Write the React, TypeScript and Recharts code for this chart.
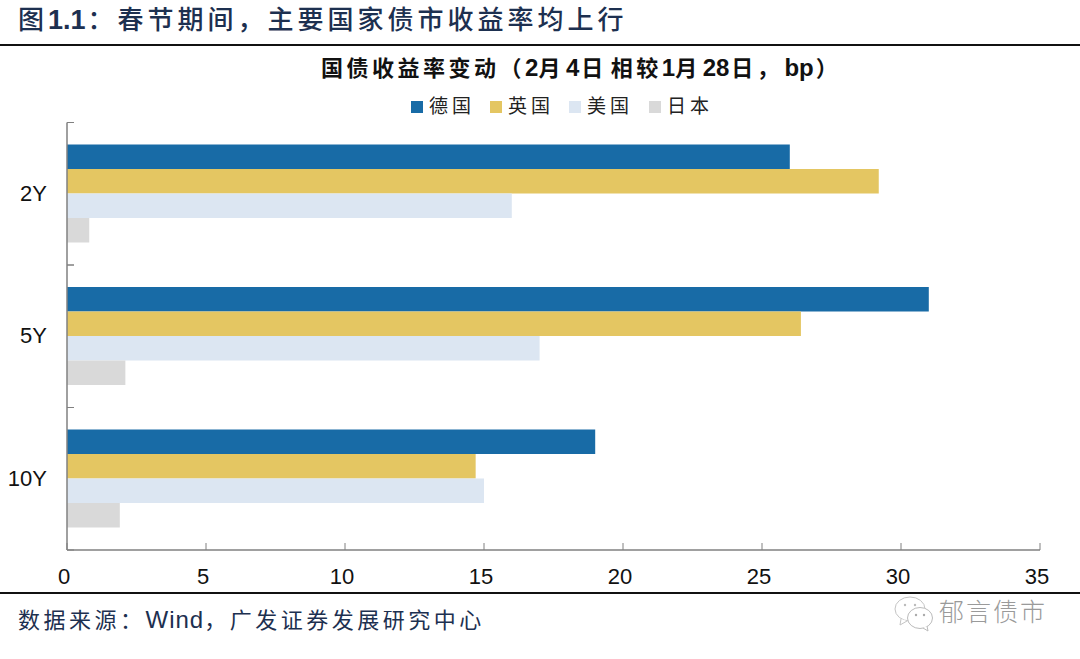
import React from "react";
import { BarChart, Bar, XAxis, YAxis, Legend } from "recharts";

const categories = ["2Y", "5Y", "10Y"];
const germany = [26, 31, 19];
const uk = [29.2, 26.4, 14.7];
const us = [16, 17, 15];
const japan = [0.8, 2.1, 1.9];
const xTicks = [0, 5, 10, 15, 20, 25, 30, 35];
const seriesNames = ["德国", "英国", "美国", "日本"];
const seriesColors = ["#186BA6", "#E4C662", "#DCE6F2", "#D9D9D9"];

const rows = categories.map((c, i) => ({
  cat: c,
  德国: germany[i],
  英国: uk[i],
  美国: us[i],
  日本: japan[i],
}));

const W = 1080;
const H = 659;
const PLOT = { left: 67, right: 1040, top: 122.5, bottom: 550 };
const BAND = (PLOT.bottom - PLOT.top) / categories.length;
const LEGEND_H = 24;
const AXIS = "#808080";
const LATIN_CJK = '"Liberation Sans", "Noto Sans CJK SC", sans-serif';
const NAVY = "#1D3050";

const XTick = (p: any) => (
  <g>
    <line x1={p.x} x2={p.x} y1={PLOT.bottom} y2={PLOT.bottom - 7} stroke={AXIS} strokeWidth={1} />
    <text x={p.x - 3} y={584} textAnchor="middle" fontSize={22} fill="#111" fontFamily={LATIN_CJK}>
      {p.payload.value}
    </text>
  </g>
);

const YTick = (p: any) => (
  <g>
    <line x1={PLOT.left} x2={PLOT.left + 7} y1={p.y - BAND / 2} y2={p.y - BAND / 2} stroke={AXIS} strokeWidth={1} />
    <line x1={PLOT.left} x2={PLOT.left + 7} y1={p.y + BAND / 2} y2={p.y + BAND / 2} stroke={AXIS} strokeWidth={1} />
    <text x={47} y={p.y + 7} textAnchor="end" fontSize={22} fill="#111" fontFamily={LATIN_CJK}>
      {p.payload.value}
    </text>
  </g>
);

const legendLefts = [411, 490, 569, 649];

const LegendContent = () => (
  <div style={{ position: "relative", width: W, height: LEGEND_H }}>
    {seriesNames.map((n, i) => (
      <React.Fragment key={n}>
        <div
          style={{
            position: "absolute",
            left: legendLefts[i],
            top: 6,
            width: 12,
            height: 12,
            background: seriesColors[i],
          }}
        />
        <div
          style={{
            position: "absolute",
            left: legendLefts[i] + 18,
            top: 0,
            fontSize: 19,
            lineHeight: "24px",
            letterSpacing: 4,
            color: "#222",
            fontFamily: LATIN_CJK,
            whiteSpace: "nowrap",
          }}
        >
          {n}
        </div>
      </React.Fragment>
    ))}
  </div>
);

const abs = (left: number, top: number, extra: React.CSSProperties = {}): React.CSSProperties => ({
  position: "absolute",
  left,
  top,
  whiteSpace: "nowrap",
  fontFamily: LATIN_CJK,
  ...extra,
});

const Lat = ({ children, size, pad = 0 }: any) => (
  <span style={{ letterSpacing: 0, fontSize: size, padding: `0 ${pad}px` }}>{children}</span>
);

export default function App() {
  return (
    <div style={{ position: "absolute", left: 0, top: 0, width: W, height: H, background: "#fff", overflow: "hidden" }}>
      <div style={abs(18, 1, { fontSize: 26, lineHeight: "38px", letterSpacing: 4, color: NAVY, fontWeight: 500 })}>
        图
        <b style={{ letterSpacing: 0, fontFamily: '"Liberation Sans"', fontSize: 27, paddingRight: 2 }}>1.1</b>
        ：春节期间，主要国家债市收益率均上行
      </div>
      <div style={{ position: "absolute", left: 0, top: 44, width: W, height: 2, background: "#111" }} />
      <div style={abs(321, 52, { fontSize: 22, lineHeight: "32px", letterSpacing: 3.5, color: "#111", fontWeight: 700 })}>
        国债收益率变动（
        <Lat size={24}>2</Lat>月<Lat size={24} pad={2}>4</Lat>日<span style={{ paddingLeft: 4 }}>相较</span><Lat size={24}>1</Lat>月<Lat size={24} pad={2}>28</Lat>日，
        <Lat size={24} pad={2}>bp</Lat>）
      </div>
      <BarChart
        width={W}
        height={H}
        data={rows}
        layout="vertical"
        margin={{
          left: PLOT.left - 1,
          right: W - PLOT.right,
          top: PLOT.top - LEGEND_H,
          bottom: H - PLOT.bottom - 1,
        }}
        barGap={0}
        style={{ position: "absolute", left: 0, top: 0 }}
      >
        <XAxis
          type="number"
          domain={[0, 35]}
          ticks={xTicks}
          height={1}
          interval={0}
          tickLine={false}
          tick={XTick}
          axisLine={{ stroke: AXIS, strokeWidth: 1.5 }}
        />
        <YAxis
          type="category"
          dataKey="cat"
          width={1}
          interval={0}
          tickLine={false}
          tickSize={0}
          tick={YTick}
          axisLine={{ stroke: AXIS, strokeWidth: 1.5 }}
        />
        <Legend
          content={LegendContent}
          verticalAlign="top"
          wrapperStyle={{ position: "absolute", left: 0, top: 95, width: W, height: LEGEND_H }}
        />
        {seriesNames.map((n, i) => (
          <Bar key={n} dataKey={n} fill={seriesColors[i]} barSize={24.5} isAnimationActive={false} />
        ))}
      </BarChart>
      <div style={{ position: "absolute", left: 0, top: 592, width: W, height: 2, background: "#111" }} />
      <div style={abs(18, 604, { fontSize: 22, lineHeight: "32px", letterSpacing: 3.5, color: NAVY })}>
        数据来源：
        <span style={{ letterSpacing: 1, fontSize: 24 }}>Wind</span>
        ，广发证券发展研究中心
      </div>
      <svg width={44} height={38} style={{ position: "absolute", left: 889, top: 594 }}>
        <ellipse cx={21} cy={15} rx={15} ry={12} fill="#fff" stroke="#c4c4c4" />
        <path d="M12 25 L11 31 L18 27" fill="#fff" stroke="#c4c4c4" />
        <ellipse cx={31} cy={24} rx={12.5} ry={10.5} fill="#fff" stroke="#bbb" />
        <path d="M34 34 L39 37 L38 32" fill="#fff" stroke="#bbb" />
        <circle cx={16} cy={11} r={1.2} fill="#bbb" />
        <circle cx={26} cy={11} r={1.2} fill="#bbb" />
        <circle cx={27} cy={21} r={1.2} fill="#aaa" />
        <circle cx={35} cy={21} r={1.2} fill="#aaa" />
      </svg>
      <div style={abs(939, 596, { fontSize: 25, lineHeight: "32px", color: "#9a9a9a", fontWeight: 300, letterSpacing: 2 })}>
        郁言债市
      </div>
    </div>
  );
}
